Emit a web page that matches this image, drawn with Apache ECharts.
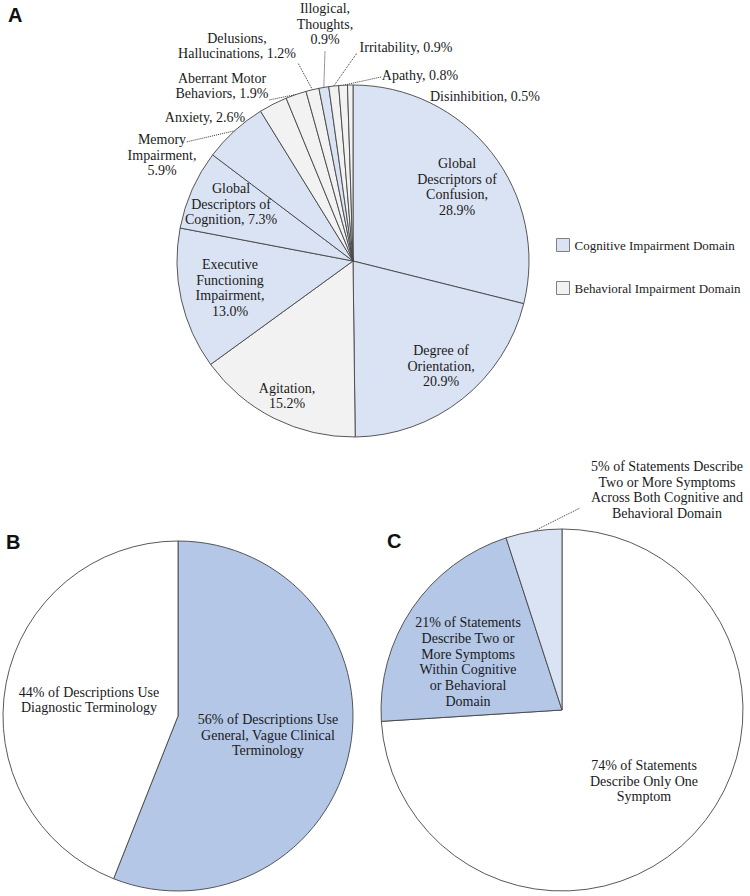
<!DOCTYPE html>
<html><head><meta charset="utf-8">
<script src="https://cdn.jsdelivr.net/npm/echarts@6/dist/echarts.min.js"></script>
<style>html,body{margin:0;padding:0;background:#fff}#c{width:750px;height:896px}</style>
</head><body><div id="c"></div>
<script>
// ---------- Panel A data ----------
const catA = ['Global Descriptors of Confusion', 'Degree of Orientation', 'Agitation',
  'Executive Functioning Impairment', 'Global Descriptors of Cognition', 'Memory Impairment',
  'Anxiety', 'Aberrant Motor Behaviors', 'Delusions, Hallucinations', 'Illogical, Thoughts',
  'Irritability', 'Apathy', 'Disinhibition'];
const valA = [28.9, 20.9, 15.2, 13.0, 7.3, 5.9, 2.6, 1.9, 1.2, 0.9, 0.9, 0.8, 0.5];
const domainA = ['cog', 'cog', 'beh', 'cog', 'cog', 'cog', 'beh', 'beh', 'beh', 'cog', 'beh', 'beh', 'beh'];
const labelTextA = ['Global\nDescriptors of\nConfusion,\n{v}', 'Degree of\nOrientation,\n{v}', 'Agitation,\n{v}',
  'Executive\nFunctioning\nImpairment,\n{v}', 'Global\nDescriptors of\nCognition, {v}', 'Memory\nImpairment,\n{v}',
  'Anxiety, {v}', 'Aberrant Motor\nBehaviors, {v}', 'Delusions,\nHallucinations, {v}', 'Illogical,\nThoughts,\n{v}',
  'Irritability, {v}', 'Apathy, {v}', 'Disinhibition, {v}'];
const domainNames = ['Cognitive Impairment Domain', 'Behavioral Impairment Domain'];

// ---------- Panel B data ----------
const catB = ['General, Vague Clinical Terminology', 'Diagnostic Terminology'];
const valB = [56, 44];
const labelTextB = ['{v} of Descriptions Use\nGeneral, Vague Clinical\nTerminology', '{v} of Descriptions Use\nDiagnostic Terminology'];

// ---------- Panel C data ----------
const catC = ['Describe Only One Symptom', 'Two or More Symptoms Within Cognitive or Behavioral Domain',
  'Two or More Symptoms Across Both Cognitive and Behavioral Domain'];
const valC = [74, 21, 5];
const labelTextC = ['{v} of Statements\nDescribe Only One\nSymptom',
  '{v} of Statements\nDescribe Two or\nMore Symptoms\nWithin Cognitive\nor Behavioral\nDomain',
  '{v} of Statements Describe\nTwo or More Symptoms\nAcross Both Cognitive and\nBehavioral Domain'];

// ---------- layout / style (not data) ----------
const colCog = '#dae3f3', colBeh = '#f2f2f2', colBlue = '#b4c7e7', colWhite = '#ffffff';
const serif = "'Liberation Serif', 'Times New Roman', serif";
const sans = "'Liberation Sans', Arial, sans-serif";
const centerA = [353, 261], radiusA = 176;
const centerB = [178, 716], radiusB = 175;
const centerC = [562, 710], radiusC = 181;

const layoutA = [
  {x: 457, y: 187}, {x: 441, y: 366}, {x: 287, y: 396}, {x: 230, y: 288}, {x: 231, y: 204},
  {x: 162, y: 155, out: true, lead: [186, 142]},
  {x: 205, y: 117, out: true},
  {x: 222, y: 86, out: true, lead: [269, 100]},
  {x: 237, y: 46, out: true, lead: [298, 63]},
  {x: 325, y: 24, out: true, lead: [325, 51]},
  {x: 406, y: 47, out: true, lead: [357, 53]},
  {x: 420, y: 75, out: true, lead: [381, 77]},
  {x: 485, y: 96, out: true, lead: [428, 104], f: 0.875}
];
const layoutB = [{x: 268, y: 735}, {x: 89, y: 700}];
const layoutC = [{x: 644, y: 781}, {x: 468, y: 662}, {x: 667, y: 490, out: true, lead: [580, 508]}];

function fmt(t, v) { return t.replace('{v}', v); }

function makeLabelLayout(layout, vals, center, radius) {
  const total = vals.reduce((a, b) => a + b, 0);
  return function (p) {
    const L = layout[p.dataIndex];
    if (!L) return {};
    const res = {x: L.x, y: L.y, align: 'center', verticalAlign: 'middle'};
    if (L.lead) {
      let p0 = p.labelLinePoints && p.labelLinePoints[0];
      if (!p0) {
        let cum = 0;
        for (let k = 0; k < p.dataIndex; k++) cum += vals[k];
        const ang = (90 - 360 * (cum + vals[p.dataIndex] / 2) / total) * Math.PI / 180;
        p0 = [center[0] + radius * Math.cos(ang), center[1] - radius * Math.sin(ang)];
      }
      const f = L.f || 1;
      const s = [center[0] + f * (p0[0] - center[0]), center[1] + f * (p0[1] - center[1])];
      res.labelLinePoints = [s, L.lead];
    }
    return res;
  };
}

const labelBase = {show: true, fontFamily: serif, fontSize: 14, lineHeight: 15.7, color: '#1a1a1a', align: 'center'};
const lineStyle = {type: 'dotted', color: '#333', width: 1};
const border = {borderColor: '#454545', borderWidth: 0.9};

function buildData(cats, vals, colors, texts, layout, valFmt) {
  return cats.map((n, i) => ({
    name: n, value: vals[i],
    itemStyle: Object.assign({color: colors[i]}, border),
    label: Object.assign({}, labelBase, {
      position: layout[i].out ? 'outside' : 'inside',
      formatter: fmt(texts[i], valFmt(vals[i]))
    }),
    labelLine: {show: !!layout[i].lead, lineStyle: lineStyle}
  }));
}

const dataA = buildData(catA, valA, domainA.map(d => d === 'cog' ? colCog : colBeh), labelTextA, layoutA, v => v.toFixed(1) + '%');
const dataB = buildData(catB, valB, [colBlue, colWhite], labelTextB, layoutB, v => v + '%');
const dataC = buildData(catC, valC, [colWhite, colBlue, colCog], labelTextC, layoutC, v => v + '%');

function pie(name, data, center, radius, layout, vals) {
  return {
    type: 'pie', name: name, data: data, center: center, radius: radius,
    startAngle: 90, clockwise: true, avoidLabelOverlap: false, animation: false,
    emphasis: {disabled: true}, silent: true,
    labelLine: {show: false, length: 10, length2: 10, lineStyle: lineStyle},
    labelLayout: makeLabelLayout(layout, vals, center, radius)
  };
}

const chart = echarts.init(document.getElementById('c'), null, {renderer: 'svg'});
const titleStyle = {fontFamily: sans, fontWeight: 'bold', fontSize: 20, color: '#111'};
chart.setOption({
  animation: false,
  backgroundColor: '#ffffff',
  title: [
    {text: 'A', left: 8, top: 5, padding: 0, textStyle: titleStyle},
    {text: 'B', left: 6, top: 532, padding: 0, textStyle: titleStyle},
    {text: 'C', left: 387, top: 531, padding: 0, textStyle: titleStyle}
  ],
  legend: {
    orient: 'vertical', left: 551, top: 233, itemWidth: 13, itemHeight: 13, itemGap: 29,
    icon: 'rect', selectedMode: false, data: domainNames,
    textStyle: {fontFamily: serif, fontSize: 13, color: '#222'},
    itemStyle: {borderColor: '#808080', borderWidth: 1}
  },
  series: [
    pie('A', dataA, centerA, radiusA, layoutA, valA),
    pie('B', dataB, centerB, radiusB, layoutB, valB),
    pie('C', dataC, centerC, radiusC, layoutC, valC),
    {type: 'pie', name: domainNames[0], data: [], showEmptyCircle: false, itemStyle: {color: colCog}},
    {type: 'pie', name: domainNames[1], data: [], showEmptyCircle: false, itemStyle: {color: colBeh}}
  ]
});
</script></body></html>
